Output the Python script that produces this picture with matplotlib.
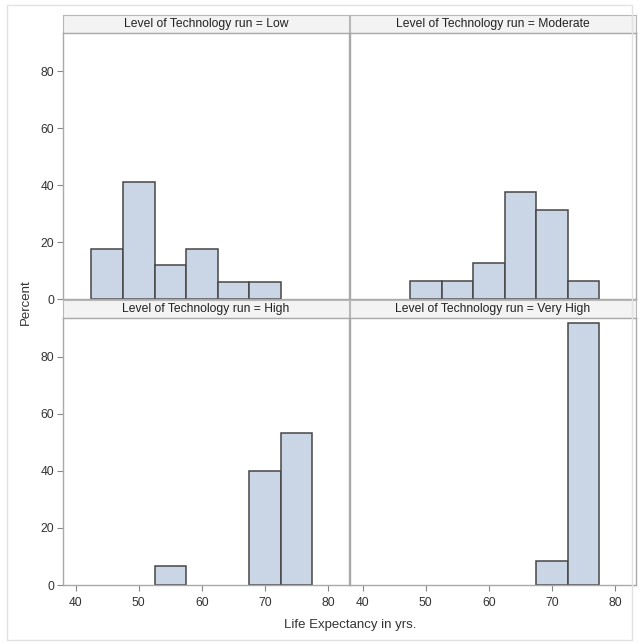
import numpy as np
import matplotlib
matplotlib.use("Agg")
import matplotlib.pyplot as plt
from matplotlib.patches import Rectangle

plt.rcParams['font.family'] = ['Liberation Sans', 'DejaVu Sans']

# histogram bins: midpoints (width 5) and percent per panel
groups = ['Low', 'Moderate', 'High', 'Very High']
mid_low = [45, 50, 55, 60, 65, 70]
pct_low = [17.6, 41.2, 11.8, 17.6, 5.9, 5.9]
mid_mod = [50, 55, 60, 65, 70, 75]
pct_mod = [6.25, 6.25, 12.5, 37.5, 31.25, 6.25]
mid_high = [55, 70, 75]
pct_high = [6.67, 40.0, 53.33]
mid_vhigh = [70, 75]
pct_vhigh = [8.33, 91.67]
bin_width = 5
xticks = [40, 50, 60, 70, 80]
yticks = [0, 20, 40, 60, 80]

W, H = 639, 643
fig = plt.figure(figsize=(W / 100, H / 100), dpi=100)

def px(x0, y0, x1, y1):
    return [x0 / W, 1 - y1 / H, (x1 - x0) / W, (y1 - y0) / H]

# outer light frame
fig.patches.append(Rectangle((7 / W, 1 - 640 / H), 625 / W, 635 / H, transform=fig.transFigure,
                             fill=False, edgecolor='#e2e2e2', lw=1))

fill = '#cad5e5'
edge = '#474747'
frame = '#a9a9a9'
txt = '#333333'

panels = [
    (mid_low, pct_low, (63, 349), (15, 33, 299), True, False),
    (mid_mod, pct_mod, (350, 636), (15, 33, 299), False, False),
    (mid_high, pct_high, (63, 349), (300, 318, 585), True, True),
    (mid_vhigh, pct_vhigh, (350, 636), (300, 318, 585), False, True),
]

for g, (mids, pcts, (xa, xb), (hy, ya, yb), showy, showx) in zip(groups, panels):
    # header strip
    hax = fig.add_axes(px(xa, hy, xb, ya))
    hax.set_facecolor('#f3f3f3')
    hax.set_xticks([])
    hax.set_yticks([])
    for s in hax.spines.values():
        s.set_color('#b8b8b8')
        s.set_linewidth(0.8)
    hax.text(0.5, 0.5, 'Level of Technology run = ' + g, ha='center', va='center',
             fontsize=8.7, color='#222222', transform=hax.transAxes)

    ax = fig.add_axes(px(xa, ya, xb, yb))
    ax.bar(mids, pcts, width=bin_width, color=fill, edgecolor=edge, linewidth=1.1)
    ax.set_xlim(38, 83.3)
    ax.set_ylim(0, 93.5)
    for s in ax.spines.values():
        s.set_color(frame)
        s.set_linewidth(1)
    ax.tick_params(colors='#888888', labelcolor=txt, labelsize=8.7, length=4.5, width=0.8, pad=2)
    ax.tick_params(axis='x', pad=4.5)
    ax.set_xticks(xticks)
    ax.set_yticks(yticks)
    if not showy:
        ax.tick_params(axis='y', left=False, labelleft=False)
    if not showx:
        ax.tick_params(axis='x', bottom=False, labelbottom=False)

fig.text(26 / W, 1 - 302 / H, 'Percent', rotation=90, ha='center', va='center', fontsize=9.5, color=txt)
fig.text(350 / W, 1 - 625 / H, 'Life Expectancy in yrs.', ha='center', va='center', fontsize=9.5, color=txt)

fig.savefig('out.png', dpi=100)
